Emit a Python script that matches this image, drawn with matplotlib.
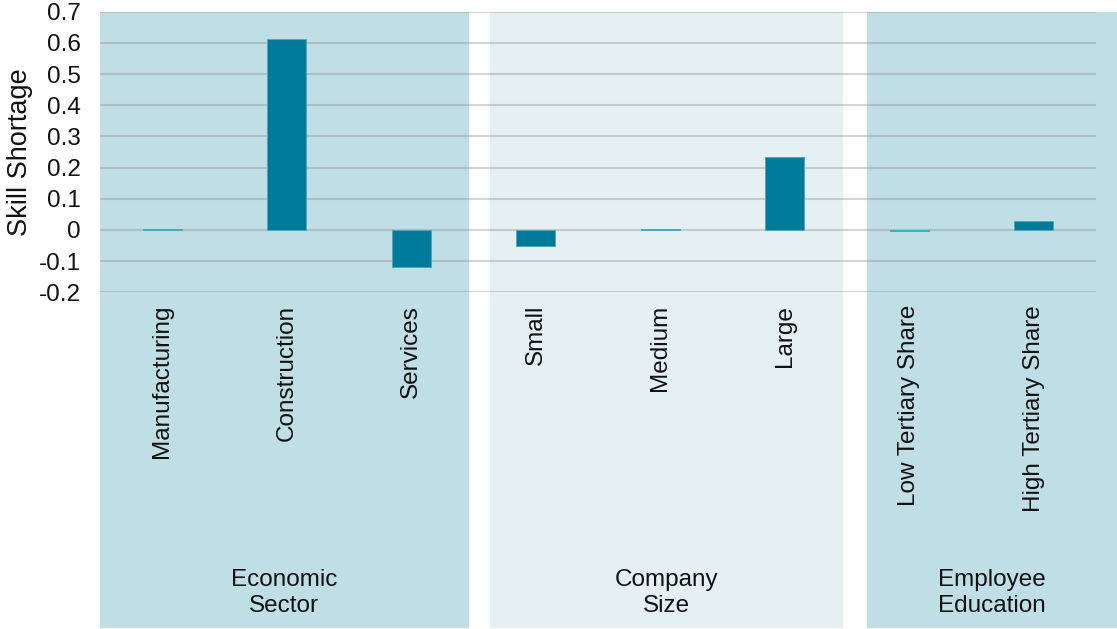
import matplotlib.pyplot as plt
from matplotlib.patches import Rectangle

plt.rcParams["font.family"] = ["Liberation Sans", "DejaVu Sans"]

categories = ["Manufacturing", "Construction", "Services",
              "Small", "Medium", "Large",
              "Low Tertiary Share", "High Tertiary Share"]
values = [0.004, 0.613, -0.12, -0.052, 0.002, 0.233, -0.003, 0.03]

groups = ["Economic\nSector", "Company\nSize", "Employee\nEducation"]
group_spans = [(-0.5, 2.46), (2.63, 5.47), (5.66, 7.67)]
group_colors = ["#c0dee5", "#e4f0f2", "#c0dee5"]

yticks = [-0.2, -0.1, 0, 0.1, 0.2, 0.3, 0.4, 0.5, 0.6, 0.7]

W, H = 1117, 629
fig = plt.figure(figsize=(W / 100, H / 100), dpi=100)
ax_left, ax_right = 100, 1096
ax_top, ax_bot = 11.7, 292.3
ax = fig.add_axes([ax_left / W, (H - ax_bot) / H,
                   (ax_right - ax_left) / W, (ax_bot - ax_top) / H])
ax.patch.set_visible(False)

# group background panels, reaching down to the bottom of the figure
bottom_ax = (ax_bot - (H - 0.5)) / (ax_bot - ax_top)
label_ax = (ax_bot - 593) / (ax_bot - ax_top)
for (x0, x1), col, name in zip(group_spans, group_colors, groups):
    ax.add_patch(Rectangle((x0, bottom_ax), x1 - x0, 1 - bottom_ax,
                           transform=ax.get_xaxis_transform(),
                           facecolor=col, edgecolor="none",
                           clip_on=False, zorder=0))
    ax.text((x0 + x1) / 2, label_ax, name, transform=ax.get_xaxis_transform(),
            ha="center", va="center", fontsize=17.5, color="#111111",
            linespacing=1.25)

x = list(range(len(categories)))
ax.bar(x, values, width=0.315, color="#007a99", edgecolor="#4fa6ba",
       linewidth=0.7, zorder=3)

ax.set_xlim(-0.5, 7.5)
ax.set_ylim(-0.2, 0.7)
ax.set_yticks(yticks)
ax.set_yticklabels([f"{v:g}" for v in yticks], fontsize=17.5, color="#111111")
ax.set_xticks(x)
ax.set_xticklabels(categories, rotation=90, fontsize=17.5, color="#111111",
                   va="top", ha="center")
ax.tick_params(axis="both", length=0)
ax.tick_params(axis="x", pad=9)
ax.tick_params(axis="y", pad=14)
ax.set_ylabel("Skill Shortage", fontsize=19.5, color="#111111", labelpad=4)

ax.grid(axis="y", color="#888888", alpha=0.35, linewidth=1.5, zorder=1)
ax.set_axisbelow(True)
for s in ax.spines.values():
    s.set_visible(False)

fig.savefig("out.png", dpi=100)
